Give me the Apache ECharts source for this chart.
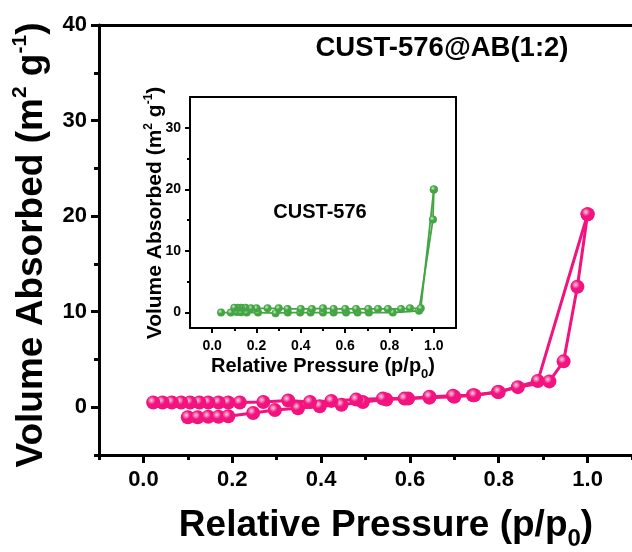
<!DOCTYPE html>
<html>
<head>
<meta charset="utf-8">
<script src="https://cdn.jsdelivr.net/npm/echarts@6/dist/echarts.min.js"></script>
<style>html,body{margin:0;padding:0;background:#fff}#c{width:632px;height:552px}</style>
</head>
<body>
<div id="c"></div>
<script>
// ---- Main chart: CUST-576@AB(1:2) ----
const mainAdsX = [0.10, 0.122, 0.146, 0.169, 0.191, 0.247, 0.296, 0.348, 0.397, 0.446, 0.494, 0.547, 0.596, 0.644, 0.70, 0.742, 0.798, 0.843, 0.914, 0.946, 0.977, 1.0];
const mainAdsY = [-1.05, -1.05, -1.0, -1.0, -0.95, -0.6, -0.3, -0.1, 0.1, 0.25, 0.55, 0.8, 0.9, 1.0, 1.1, 1.25, 1.6, 2.1, 2.7, 4.8, 12.6, 20.2];
const mainDesX = [1.0, 0.888, 0.80, 0.745, 0.697, 0.644, 0.588, 0.539, 0.479, 0.423, 0.375, 0.326, 0.27, 0.217, 0.191, 0.169, 0.146, 0.126, 0.105, 0.085, 0.064, 0.043, 0.022];
const mainDesY = [20.2, 2.75, 1.6, 1.25, 1.2, 1.1, 0.9, 0.9, 0.8, 0.66, 0.55, 0.7, 0.55, 0.5, 0.5, 0.5, 0.5, 0.5, 0.5, 0.5, 0.5, 0.5, 0.5];
// ---- Inset: CUST-576 ----
const insetAdsX = [0.04, 0.084, 0.11, 0.13, 0.156, 0.207, 0.286, 0.341, 0.397, 0.444, 0.5, 0.548, 0.604, 0.656, 0.707, 0.815, 0.933, 0.996, 1.0];
const insetAdsY = [0.0, 0.0, 0.1, 0.05, 0.0, 0.0, -0.1, 0.0, 0.0, 0.0, 0.0, 0.0, 0.0, 0.0, 0.0, 0.0, 0.3, 15.1, 20.0];
const insetDesX = [1.0, 0.941, 0.892, 0.852, 0.793, 0.748, 0.704, 0.649, 0.6, 0.548, 0.5, 0.45, 0.4, 0.34, 0.3, 0.25, 0.2, 0.175, 0.15, 0.13, 0.115, 0.1];
const insetDesY = [20.0, 0.7, 0.7, 0.6, 0.6, 0.6, 0.6, 0.6, 0.6, 0.6, 0.7, 0.6, 0.6, 0.6, 0.7, 0.7, 0.7, 0.7, 0.8, 0.8, 0.8, 0.8];

const mainXMajor = [0, 0.2, 0.4, 0.6, 0.8, 1.0];
const mainXMinor = [-0.1, 0.1, 0.3, 0.5, 0.7, 0.9, 1.1];
const mainYMajor = [0, 10, 20, 30, 40];
const mainYMinor = [-5, 5, 15, 25, 35];
const insetXMajor = [0, 0.2, 0.4, 0.6, 0.8, 1.0];
const insetXMinor = [0.1, 0.3, 0.5, 0.7, 0.9];
const insetYMajor = [0, 10, 20, 30];
const insetYMinor = [5, 15, 25];

const FONT = '"Liberation Sans", Arial, sans-serif';
const PINK = '#f2137e';
const GREEN = '#45a545';

function zip(xs, ys) { return xs.map((x, i) => [x, ys[i]]); }
function sphere(c, light) {
  return { type: 'radial', x: 0.38, y: 0.35, r: 0.65,
    colorStops: [{ offset: 0, color: light }, { offset: 0.45, color: c }, { offset: 1, color: c }] };
}

const chart = echarts.init(document.getElementById('c'), null, { renderer: 'canvas' });

function xAxes(grid, min, max, major, minor, fs, lw, tl, fmt) {
  return [
    { type: 'value', gridIndex: grid, min, max, position: 'bottom',
      axisLine: { show: true, onZero: false, lineStyle: { color: '#000', width: lw } },
      axisTick: { show: true, customValues: major, length: tl, lineStyle: { color: '#000', width: lw } },
      axisLabel: { show: true, customValues: major, formatter: fmt, fontFamily: FONT, fontWeight: 'bold', fontSize: fs, color: '#000', margin: tl + 6 },
      splitLine: { show: false } },
    { type: 'value', gridIndex: grid, min, max, position: 'bottom',
      axisLine: { show: false, onZero: false },
      axisTick: { show: true, customValues: minor, length: Math.round(tl * 0.6), lineStyle: { color: '#000', width: lw } },
      axisLabel: { show: false }, splitLine: { show: false } },
    { type: 'value', gridIndex: grid, min, max, position: 'top',
      axisLine: { show: true, onZero: false, lineStyle: { color: '#000', width: lw } },
      axisTick: { show: false }, axisLabel: { show: false }, splitLine: { show: false } }
  ];
}
function yAxes(grid, min, max, major, minor, fs, lw, tl, withRight) {
  const arr = [
    { type: 'value', gridIndex: grid, min, max, position: 'left',
      axisLine: { show: true, onZero: false, lineStyle: { color: '#000', width: lw } },
      axisTick: { show: true, customValues: major, length: tl, lineStyle: { color: '#000', width: lw } },
      axisLabel: { show: true, customValues: major, fontFamily: FONT, fontWeight: 'bold', fontSize: fs, color: '#000', margin: tl + 4 },
      splitLine: { show: false } },
    { type: 'value', gridIndex: grid, min, max, position: 'left',
      axisLine: { show: false, onZero: false },
      axisTick: { show: true, customValues: minor, length: Math.round(tl * 0.6), lineStyle: { color: '#000', width: lw } },
      axisLabel: { show: false }, splitLine: { show: false } }
  ];
  if (withRight) arr.push({ type: 'value', gridIndex: grid, min, max, position: 'right',
      axisLine: { show: true, onZero: false, lineStyle: { color: '#000', width: lw } },
      axisTick: { show: false }, axisLabel: { show: false }, splitLine: { show: false } });
  return arr;
}

const fmt1 = v => v.toFixed(1);
const xs = xAxes(0, -0.1, 1.1, mainXMajor, mainXMinor, 22, 3, 8, fmt1)
  .concat(xAxes(1, -0.1, 1.1, insetXMajor, insetXMinor, 14, 2, 5, fmt1));
const ys = yAxes(0, -5, 40, mainYMajor, mainYMinor, 22, 3, 8, false)
  .concat(yAxes(1, -2.5, 35, insetYMajor, insetYMinor, 14, 2, 5, true));

const richBig = {
  n: { fontFamily: FONT, fontWeight: 'bold', fontSize: 37, lineHeight: 50, color: '#000' },
  sup: { fontFamily: FONT, fontWeight: 'bold', fontSize: 21, lineHeight: 50, color: '#000', verticalAlign: 'top', padding: [3, 0, 0, 0] },
  sub: { fontFamily: FONT, fontWeight: 'bold', fontSize: 24, lineHeight: 50, color: '#000', verticalAlign: 'bottom' }
};
const richSmall = {
  n: { fontFamily: FONT, fontWeight: 'bold', fontSize: 21, lineHeight: 29, color: '#000' },
  sup: { fontFamily: FONT, fontWeight: 'bold', fontSize: 12, lineHeight: 29, color: '#000', verticalAlign: 'top', padding: [2, 0, 0, 0] },
  sub: { fontFamily: FONT, fontWeight: 'bold', fontSize: 13, lineHeight: 29, color: '#000', verticalAlign: 'bottom' }
};
const yTitle = '{n|Volume Absorbed (m}{sup|2}{n| g}{sup|-1}{n|)}';
const xTitle = '{n|Relative Pressure (p/p}{sub|0}{n|)}';
const xTitleSmall = '{m|Relative Pressure (p/p}{sub|0}{m|)}';

function lineSeries(xi, yi, data, color, light, size, lw) {
  return { type: 'line', xAxisIndex: xi, yAxisIndex: yi, data, symbol: 'circle', symbolSize: size,
    showSymbol: true, animation: false, z: 5,
    lineStyle: { color, width: lw }, itemStyle: { color: sphere(color, light), borderWidth: 0 } };
}

chart.setOption({
  animation: false,
  backgroundColor: '#fff',
  grid: [
    { left: 99, top: 25, width: 535.5, height: 430 },
    { left: 190, top: 97, width: 266, height: 231 }
  ],
  xAxis: xs,
  yAxis: ys,
  series: [
    lineSeries(0, 0, zip(mainAdsX, mainAdsY), PINK, '#ffd0e6', 14, 3),
    lineSeries(0, 0, zip(mainDesX, mainDesY), PINK, '#ffd0e6', 14, 3),
    lineSeries(3, 3, zip(insetAdsX, insetAdsY), GREEN, '#c8f0c8', 8, 1.8),
    lineSeries(3, 3, zip(insetDesX, insetDesY), GREEN, '#c8f0c8', 8, 1.8)
  ],
  graphic: [
    { type: 'text', x: 32, y: 245, rotation: Math.PI / 2, z: 10,
      style: { text: yTitle, rich: richBig, align: 'center', verticalAlign: 'middle' } },
    { type: 'text', x: 386, y: 526, z: 10,
      style: { text: xTitle, rich: richBig, align: 'center', verticalAlign: 'middle' } },
    { type: 'text', x: 155, y: 213, rotation: Math.PI / 2, z: 10,
      style: { text: yTitle, rich: richSmall, align: 'center', verticalAlign: 'middle' } },
    { type: 'text', x: 323, y: 366, z: 10,
      style: { text: xTitleSmall, rich: Object.assign({}, richSmall, { m: Object.assign({}, richSmall.n, { fontSize: 20 }) }), align: 'center', verticalAlign: 'middle' } },
    { type: 'text', x: 442, y: 48, z: 10,
      style: { text: 'CUST-576@AB(1:2)', fontFamily: FONT, fontWeight: 'bold', fontSize: 27.5, fill: '#000', align: 'center', verticalAlign: 'middle' } },
    { type: 'text', x: 320, y: 212, z: 10,
      style: { text: 'CUST-576', fontFamily: FONT, fontWeight: 'bold', fontSize: 20, fill: '#000', align: 'center', verticalAlign: 'middle' } }
  ]
});
</script>
</body>
</html>
